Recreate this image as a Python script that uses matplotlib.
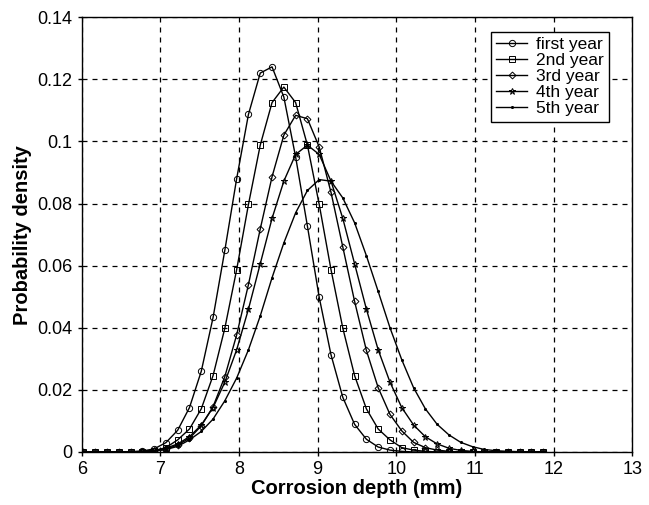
import numpy as np
import matplotlib
matplotlib.use('Agg')
from matplotlib import pyplot as plt

plt.rcParams['font.family'] = ['Liberation Sans', 'DejaVu Sans']

# corrosion depth grid (mm)
depth = [6.02, 6.17, 6.32, 6.47, 6.62, 6.77, 6.92, 7.07, 7.22, 7.37,
         7.52, 7.67, 7.82, 7.97, 8.12, 8.27, 8.42, 8.57, 8.72, 8.87,
         9.02, 9.17, 9.32, 9.47, 9.62, 9.77, 9.92, 10.07, 10.22, 10.37,
         10.52, 10.67, 10.82, 10.97, 11.12, 11.27, 11.42, 11.57, 11.72, 11.87]

year1 = [0, 0, 0, 0, 0.0001, 0.0003, 0.001, 0.003, 0.007, 0.0143,
         0.026, 0.0433, 0.065, 0.088, 0.1087, 0.122, 0.124, 0.1143, 0.095, 0.0727,
         0.0498, 0.0313, 0.0176, 0.0089, 0.0041, 0.0016, 0.0006, 0.0002, 0, 0,
         0, 0, 0, 0, 0, 0, 0, 0, 0, 0]
year2 = [0, 0, 0, 0, 0, 0.0001, 0.0004, 0.0014, 0.0039, 0.0074,
         0.0139, 0.0246, 0.0399, 0.0587, 0.0797, 0.0988, 0.1125, 0.1175, 0.1125, 0.0988,
         0.0797, 0.0587, 0.0399, 0.0246, 0.0139, 0.0074, 0.0039, 0.0014, 0.0006, 0.0002,
         0, 0, 0, 0, 0, 0, 0, 0, 0, 0]
year3 = [0, 0, 0, 0, 0, 0.0001, 0.0003, 0.0008, 0.0023, 0.0044,
         0.0084, 0.0146, 0.0243, 0.0377, 0.0539, 0.0718, 0.0886, 0.102, 0.1084, 0.1073,
         0.0982, 0.0836, 0.066, 0.0485, 0.0327, 0.0207, 0.0121, 0.0068, 0.0031, 0.0014,
         0.0006, 0.0002, 0, 0, 0, 0, 0, 0, 0, 0]
year4 = [0, 0, 0, 0, 0, 0.0002, 0.0005, 0.0012, 0.0026, 0.0049,
         0.0087, 0.0143, 0.0225, 0.0329, 0.046, 0.0606, 0.0752, 0.0872, 0.0958, 0.0988,
         0.0958, 0.0872, 0.0752, 0.0606, 0.046, 0.0329, 0.0225, 0.0143, 0.0087, 0.0049,
         0.0026, 0.0012, 0.0005, 0.0002, 0, 0, 0, 0, 0, 0]
year5 = [0, 0, 0, 0, 0, 0.0001, 0.0003, 0.0008, 0.0018, 0.0039,
         0.0066, 0.0106, 0.0165, 0.0238, 0.0329, 0.0438, 0.0561, 0.0673, 0.077, 0.0842,
         0.0877, 0.0872, 0.0818, 0.0738, 0.0632, 0.0517, 0.04, 0.0297, 0.0207, 0.0139,
         0.0089, 0.0055, 0.0031, 0.0017, 0.0008, 0.0004, 0.0002, 0.0001, 0, 0]

names = ['first year', '2nd year', '3rd year', '4th year', '5th year']
yticks = [0, 0.02, 0.04, 0.06, 0.08, 0.1, 0.12, 0.14]
ylabels = ['0', '0.02', '0.04', '0.06', '0.08', '0.1', '0.12', '0.14']
xticks = [6, 7, 8, 9, 10, 11, 12, 13]

fig = plt.figure(figsize=(6.49, 5.05), dpi=100)
ax = fig.add_axes([0.126, 0.105, 0.848, 0.861])

styles = [('o', 4.5), ('s', 4.5), ('D', 3.5), ('*', 5), ('.', 3)]
for ys, name, (m, ms) in zip([year1, year2, year3, year4, year5], names, styles):
    ax.plot(depth, ys, color='black', lw=1, marker=m, ms=ms,
            mfc='none' if m != '.' else 'black', mec='black', mew=0.7, label=name)

ax.set_xlim(6, 13)
ax.set_ylim(0, 0.14)
ax.set_xticks(xticks)
ax.set_yticks(yticks)
ax.set_yticklabels(ylabels)
ax.tick_params(direction='out', length=3, labelsize=13, width=1)
ax.grid(True, color='black', linestyle=(0, (4, 4)), linewidth=0.9)
for s in ax.spines.values():
    s.set_linewidth(1)
    s.set_color('black')

ax.set_xlabel('Corrosion depth (mm)', fontsize=14.5, fontweight='bold', labelpad=1)
ax.set_ylabel('Probability density', fontsize=14.5, fontweight='bold', labelpad=4)

leg = ax.legend(loc='upper right', bbox_to_anchor=(0.958, 0.966), fontsize=12.5,
                fancybox=False, framealpha=1, edgecolor='black', handlelength=1.8,
                handletextpad=0.5, borderpad=0.3, labelspacing=0.05, borderaxespad=0)
leg.get_frame().set_linewidth(1)

plt.savefig('out.png', dpi=100)
